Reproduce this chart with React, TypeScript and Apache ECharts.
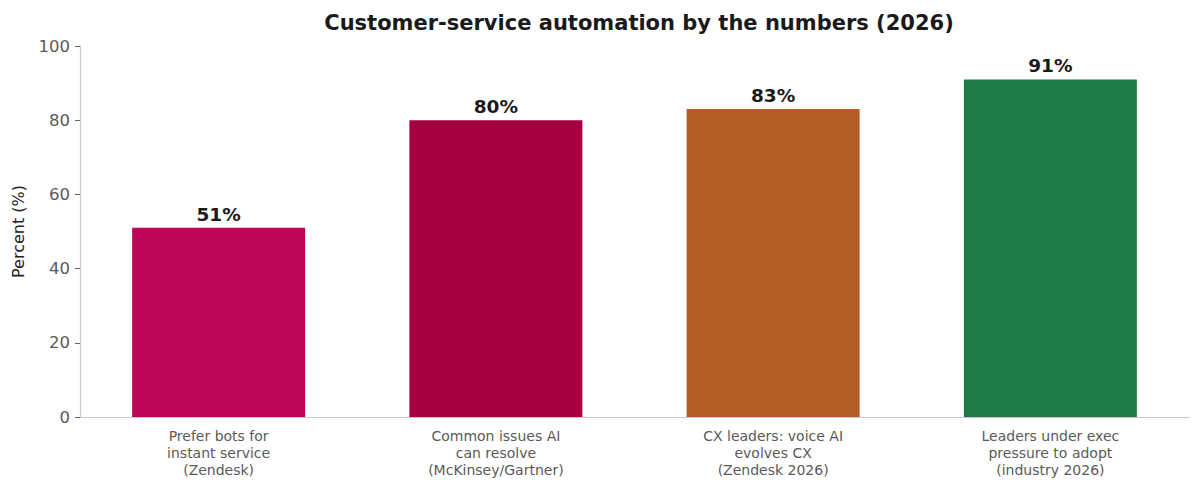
import React, { useEffect, useRef } from "react";
import * as echarts from "echarts";

const categories = [
  "Prefer bots for\ninstant service\n(Zendesk)",
  "Common issues AI\ncan resolve\n(McKinsey/Gartner)",
  "CX leaders: voice AI\nevolves CX\n(Zendesk 2026)",
  "Leaders under exec\npressure to adopt\n(industry 2026)",
];
const values = [51, 80, 83, 91];
const barColors = ["#BE0558", "#A5003F", "#B55D27", "#1F7A48"];
const yTicks = [0, 20, 40, 60, 80, 100];

const FONT = "DejaVu Sans, Verdana, sans-serif";

export default function App() {
  const ref = useRef<HTMLDivElement>(null);

  useEffect(() => {
    if (!ref.current) return;
    const chart = echarts.init(ref.current, null, { renderer: "svg" });
    chart.setOption({
      animation: false,
      backgroundColor: "#ffffff",
      title: {
        text: "Customer-service automation by the numbers (2026)",
        left: 634,
        textAlign: "center",
        top: 7,
        textStyle: { fontFamily: FONT, fontSize: 21, fontWeight: "bold", color: "#1a1a1a" },
      },
      grid: { left: 80, right: 11, top: 46, bottom: 76, containLabel: false },
      xAxis: {
        type: "category",
        data: categories,
        axisLine: { lineStyle: { color: "#c8c8c8", width: 1.2 } },
        axisTick: { alignWithLabel: true, length: 5, lineStyle: { color: "#666" } },
        axisLabel: {
          fontFamily: FONT,
          fontSize: 14,
          color: "#5a5a5a",
          lineHeight: 17,
          margin: 10,
          interval: 0,
        },
      },
      yAxis: {
        type: "value",
        min: yTicks[0],
        max: yTicks[yTicks.length - 1],
        interval: 20,
        name: "Percent (%)",
        nameLocation: "middle",
        nameGap: 54,
        nameTextStyle: { fontFamily: FONT, fontSize: 16, color: "#222" },
        axisLine: { show: true, lineStyle: { color: "#c8c8c8", width: 1.2 } },
        axisTick: { show: true, length: 5, lineStyle: { color: "#666" } },
        axisLabel: { fontFamily: FONT, fontSize: 16.5, color: "#5a5a5a", margin: 10 },
        splitLine: { show: false },
      },
      series: [
        {
          type: "bar",
          barWidth: 173,
          data: values.map((v, i) => ({ value: v, itemStyle: { color: barColors[i] } })),
          label: {
            show: true,
            position: "top",
            distance: 4,
            formatter: "{c}%",
            fontFamily: FONT,
            fontSize: 18.5,
            fontWeight: "bold",
            color: "#1a1a1a",
          },
        },
      ],
    });
    return () => chart.dispose();
  }, []);

  return <div ref={ref} style={{ width: 1200, height: 493, margin: -8 }} />;
}
